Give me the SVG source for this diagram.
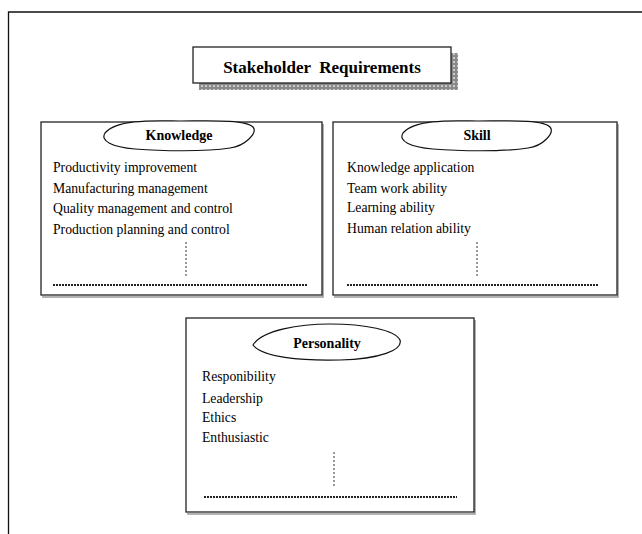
<svg xmlns="http://www.w3.org/2000/svg" width="642" height="534" viewBox="0 0 642 534">
<style>
.box{fill:#fff;stroke:#222;stroke-width:1.3}
.shadow{fill:none;stroke:#999;stroke-width:1.5}
.oval{fill:#fff;stroke:#111;stroke-width:1.2}
.item{font-family:"Liberation Serif",serif;font-size:13.7px;fill:#000}
.head{font-family:"Liberation Serif",serif;font-size:14px;font-weight:bold;fill:#000;text-anchor:middle}
.vdot{stroke:#333;stroke-width:1;stroke-dasharray:2 2;fill:none}
.hdot{stroke:#222;stroke-width:2;stroke-dasharray:2 1;fill:none}
</style>
<defs>
<pattern id="hatch" width="4" height="4" patternUnits="userSpaceOnUse">
<rect width="4" height="4" fill="#8a8a8a"/>
<circle cx="2" cy="2" r="1" fill="#e0e0e0"/>
</pattern>
</defs>
<rect width="642" height="534" fill="#fff"/>
<g id="frame">
<polyline points="642,12 8.5,12 8.5,534" fill="none" stroke="#111" stroke-width="1.3"/>
</g>
<g id="title">
<rect x="199" y="53" width="259" height="37" fill="url(#hatch)"/>
<rect x="193" y="47" width="258" height="36" class="box"/>
<text x="322" y="73" font-family="Liberation Serif,serif" font-size="17" font-weight="bold" text-anchor="middle" fill="#000" style="white-space:pre">Stakeholder  Requirements</text>
</g>
<g id="knowledge">
<polyline points="42,297 323,297 323,124" class="shadow"/>
<rect x="41" y="122" width="281" height="173" class="box"/>
<path d="M105,133 C118,118 160,121 180,121 C205,121 245,119 253,127 C258,133 245,146 230,148 C205,152 160,151 135,149 C112,147 100,141 105,133 Z" class="oval"/>
<text x="179" y="140" class="head">Knowledge</text>
<text x="53" y="172" class="item">Productivity improvement</text>
<text x="53" y="193" class="item">Manufacturing management</text>
<text x="53" y="213" class="item">Quality management and control</text>
<text x="53" y="234" class="item">Production planning and control</text>
<line x1="186" y1="242" x2="186" y2="276" class="vdot"/>
<line x1="53" y1="285" x2="307" y2="285" class="hdot"/>
</g>
<g id="skill">
<polyline points="334,297 618,297 618,124" class="shadow"/>
<rect x="333" y="122" width="284" height="173" class="box"/>
<path d="M403,133 C416,118 458,121 478,121 C503,121 543,119 550,127 C555,133 543,146 528,148 C503,152 458,151 433,149 C410,147 398,141 403,133 Z" class="oval"/>
<text x="477" y="140" class="head">Skill</text>
<text x="347" y="172" class="item">Knowledge application</text>
<text x="347" y="193" class="item">Team work ability</text>
<text x="347" y="212" class="item">Learning ability</text>
<text x="347" y="233" class="item">Human relation ability</text>
<line x1="477" y1="242" x2="477" y2="276" class="vdot"/>
<line x1="347" y1="285" x2="598" y2="285" class="hdot"/>
</g>
<g id="personality">
<polyline points="187,514 475,514 475,320" class="shadow"/>
<rect x="186" y="318" width="288" height="194" class="box"/>
<path d="M253,345 C262,330 300,324 330,324 C365,324 395,330 400,340 C403,350 380,359 340,360 C300,361 262,357 253,345 Z" class="oval"/>
<text x="327" y="348" class="head">Personality</text>
<text x="202" y="381" class="item">Responibility</text>
<text x="202" y="403" class="item">Leadership</text>
<text x="202" y="422" class="item">Ethics</text>
<text x="202" y="442" class="item">Enthusiastic</text>
<line x1="334" y1="452" x2="334" y2="486" class="vdot"/>
<line x1="204" y1="497" x2="457" y2="497" class="hdot"/>
</g>
<g id="connectors"></g>
</svg>
